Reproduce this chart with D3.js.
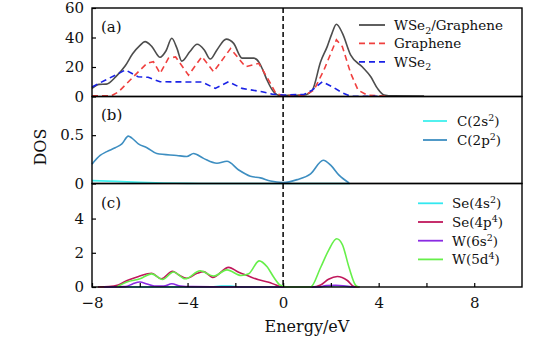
<!DOCTYPE html>
<html>
<head>
<meta charset="utf-8">
<script src="https://cdn.jsdelivr.net/npm/d3@7/dist/d3.min.js"></script>
<style>
  body { margin: 0; background: #fff; }
  svg { display: block; font-family: "DejaVu Serif", serif; }
</style>
</head>
<body>
<div id="okvir"></div>
<script>

// 1. Podaci (energija u eV, DOS)

const energyTicks = [-8, -6, -4, -2, 0, 2, 4, 6, 8]
const energyLabels = [-8, -4, 0, 4, 8]
const ticksA = [0, 20, 40, 60]
const ticksB = [0, 0.5]
const ticksC = [0, 2, 4]

const dosTotal = [[-8,5.5],[-7.7,8.2],[-7.4,8.4],[-7.0,13.5],[-6.6,21],[-6.3,29],[-6.0,34.5],[-5.78,37.2],[-5.5,34],[-5.15,26.6],[-4.9,31],[-4.66,39.5],[-4.45,33],[-4.24,24],[-3.9,30.5],[-3.6,35.4],[-3.3,31.6],[-3.05,25.4],[-2.77,31.6],[-2.38,38.9],[-2.07,36],[-1.72,26],[-1.23,26],[-1.0,23],[-0.85,18],[-0.67,11],[-0.39,3],[-0.14,0.6],[0.2,0.8],[0.87,1],[1.22,4.3],[1.57,23.6],[1.85,34],[2.05,43],[2.23,49],[2.48,43],[2.83,28],[3.32,20],[3.67,13.4],[3.95,5.5],[4.23,1],[4.6,0.4],[5.9,0.3]]
const dosGraphene = [[-8,0.4],[-7.2,0.4],[-6.9,3],[-6.2,14.5],[-5.7,22.5],[-5.43,23.6],[-5.15,15.7],[-4.8,26],[-4.5,26.8],[-3.96,14.5],[-3.4,27],[-2.91,16.8],[-2.2,32.5],[-1.58,20.2],[-1.02,22.5],[-0.6,11],[-0.3,2],[0,0.6],[0.9,0.8],[1.29,4.3],[1.71,18],[2.23,38.4],[2.48,33.8],[2.83,15.7],[3.14,4.3],[3.53,0.9],[4.4,0.3]]
const dosWSe2 = [[-8,6.5],[-7.45,11],[-6.6,18],[-6.07,13.4],[-5.65,13],[-5.15,10],[-3.4,9.8],[-2.84,5.5],[-2.28,10],[-1.72,5.5],[-0.88,3.2],[-0.46,1.6],[0,1],[0.87,1.4],[1.22,4.3],[1.64,10],[2.06,6.6],[2.48,2.5],[2.83,0.2],[3.95,0.2]]

const dosC2s = [[-8,0.03],[-7,0.022],[-6,0.012],[-5,0.005],[-4,0.001],[-3,0],[0,0],[2.8,0]]
const dosC2p = [[-8,0.2],[-7.66,0.29],[-7.38,0.33],[-7.03,0.37],[-6.75,0.41],[-6.48,0.49],[-6.33,0.47],[-6.06,0.41],[-5.7,0.37],[-5.29,0.31],[-4.45,0.29],[-4.03,0.28],[-3.75,0.31],[-3.33,0.26],[-2.77,0.21],[-2.35,0.23],[-1.86,0.14],[-1.37,0.075],[-0.95,0.058],[-0.53,0.025],[0,0.01],[0.59,0.04],[1.15,0.1],[1.68,0.24],[1.99,0.19],[2.34,0.086],[2.76,0.005]]

const dosSe4s = [[-7.5,0],[-3,0.01],[-2.6,0.05],[-2.2,0.05],[-1.8,0.01],[0,0],[1.5,0],[1.9,0.06],[2.3,0.07],[2.7,0.02],[3,0]]
const dosSe4p = [[-7.75,0],[-7.3,0.02],[-6.9,0.12],[-6.5,0.4],[-6.05,0.62],[-5.5,0.8],[-5.1,0.48],[-4.63,0.92],[-4.38,0.72],[-4.03,0.51],[-3.6,0.8],[-3.33,0.9],[-2.95,0.56],[-2.28,1.15],[-1.86,0.86],[-1.45,0.64],[-1.02,0.42],[-0.6,0.28],[-0.3,0.12],[0,0],[1.22,0],[1.57,0.12],[1.9,0.45],[2.27,0.61],[2.69,0.38],[2.97,0.02],[3.2,0]]
const dosW6s = [[-7.5,0],[-6.6,0.02],[-6.3,0.18],[-6.0,0.29],[-5.7,0.18],[-5.4,0.06],[-5.0,0.05],[-4.66,0.19],[-4.3,0.06],[-3.8,0.02],[-3,0.01],[0,0],[1.5,0],[1.8,0.08],[2.2,0.1],[2.6,0.06],[3,0]]
const dosW5d = [[-6.96,0],[-6.54,0.29],[-5.99,0.48],[-5.5,0.77],[-5.05,0.44],[-4.59,0.88],[-4.1,0.48],[-3.47,0.95],[-2.91,0.64],[-2.35,1.0],[-1.75,0.67],[-1.44,0.77],[-1.0,1.53],[-0.67,1.18],[-0.39,0.57],[-0.11,0.1],[0.2,0],[1.15,0],[1.57,1.14],[1.92,2.19],[2.24,2.82],[2.48,2.48],[2.76,1.14],[3.04,0.1],[3.2,0]]

const xAccessor = d => d[0]
const yAccessor = d => d[1]

// 2. Dimenzije

const dimenzije = {
  sirina: 554,
  visina: 340,
  margine: { top: 8, right: 32, bottom: 53, left: 92 },
}

const paneli = [
  { id: "a", top: 8, bottom: 96.5, max: 60, ticks: ticksA, oznaka: "(a)", oznakaY: 32,
    legenda: { x1: 359, x2: 385, tx: 394, y0: 25, korak: 18.4 },
    serije: [
      { data: dosTotal, boja: "#4d4d4d", crtica: null, krivulja: d3.curveMonotoneX, naziv: "WSe_2/Graphene" },
      { data: dosGraphene, boja: "#f0403f", crtica: "6,4", krivulja: d3.curveLinear, naziv: "Graphene" },
      { data: dosWSe2, boja: "#1a22e6", crtica: "6,4", krivulja: d3.curveLinear, naziv: "WSe_2" },
    ] },
  { id: "b", top: 96.5, bottom: 183.5, max: 0.9, ticks: ticksB, oznaka: "(b)", oznakaY: 120,
    legenda: { x1: 423, x2: 447, tx: 457, y0: 121, korak: 19 },
    serije: [
      { data: dosC2s, boja: "#3ff0ee", crtica: null, krivulja: d3.curveMonotoneX, naziv: "C(2s^2)" },
      { data: dosC2p, boja: "#3d8ec1", crtica: null, krivulja: d3.curveMonotoneX, naziv: "C(2p^2)" },
    ] },
  { id: "c", top: 183.5, bottom: 287, max: 6.05, ticks: ticksC, oznaka: "(c)", oznakaY: 208,
    legenda: { x1: 418, x2: 443, tx: 452, y0: 203.3, korak: 18.7 },
    serije: [
      { data: dosSe4s, boja: "#33e8f0", crtica: null, krivulja: d3.curveMonotoneX, naziv: "Se(4s^2)" },
      { data: dosSe4p, boja: "#c0185c", crtica: null, krivulja: d3.curveMonotoneX, naziv: "Se(4p^4)" },
      { data: dosW6s, boja: "#8a2be2", crtica: null, krivulja: d3.curveMonotoneX, naziv: "W(6s^2)" },
      { data: dosW5d, boja: "#66ef4a", crtica: null, krivulja: d3.curveMonotoneX, naziv: "W(5d^4)" },
    ] },
]

// 3. Canvas

const okvir = d3.select("#okvir")
  .append("svg")
    .attr("width", dimenzije.sirina)
    .attr("height", dimenzije.visina)

// 4. Razmjeri

const xSkala = d3.scaleLinear()
  .domain([-8, 10])
  .range([dimenzije.margine.left, dimenzije.sirina - dimenzije.margine.right])

// tekst s indeksima: _x je indeks dolje, ^x je eksponent
const pisiTekst = (sel, tekst, velicina) => {
  const dijelovi = tekst.split(/([_^].)/).filter(s => s.length)
  let povrat = 0
  dijelovi.forEach(s => {
    if (s[0] == "_" || s[0] == "^") {
      const pomak = s[0] == "_" ? 3.5 : -5
      sel.append("tspan")
        .attr("dy", pomak + povrat)
        .style("font-size", `${velicina * 0.7}px`)
        .text(s[1])
      povrat = -pomak
    } else {
      sel.append("tspan").attr("dy", povrat).text(s)
      povrat = 0
    }
  })
}

// 5. Crtanje podataka

paneli.forEach(p => {
  const ySkala = d3.scaleLinear()
    .domain([0, p.max])
    .range([p.bottom, p.top])

  const g = okvir.append("g")

  const lineGenerator = d3.line()
    .x(d => xSkala(xAccessor(d)))
    .y(d => ySkala(yAccessor(d)))

  p.serije.forEach(s => {
    g.append("path")
      .datum(s.data)
      .attr("d", lineGenerator.curve(s.krivulja))
      .attr("fill", "none")
      .attr("stroke", s.boja)
      .attr("stroke-width", 1.6)
      .attr("stroke-dasharray", s.crtica)
  })

  // y os s crticama prema unutra
  const yOsGenerator = d3.axisLeft(ySkala)
    .tickValues(p.ticks)
    .tickSize(-4)
    .tickPadding(8)
    .tickFormat(d3.format(""))

  const yOs = g.append("g")
    .attr("transform", `translate(${dimenzije.margine.left},0)`)
    .call(yOsGenerator)
  yOs.select(".domain").remove()
  yOs.selectAll("line").attr("stroke", "#000").attr("stroke-width", 1.2)
  yOs.selectAll("text")
    .style("font-family", "DejaVu Serif")
    .style("font-size", "15px")
    .attr("fill", "#111")

  g.append("rect")
    .attr("x", xSkala(-8))
    .attr("y", p.top)
    .attr("width", xSkala(10) - xSkala(-8))
    .attr("height", p.bottom - p.top)
    .attr("fill", "none")
    .attr("stroke", "#000")
    .attr("stroke-width", 1.4)

  g.append("text")
    .attr("x", 101)
    .attr("y", p.oznakaY)
    .style("font-size", "15px")
    .attr("fill", "#111")
    .text(p.oznaka)

  // legenda
  const leg = p.legenda
  p.serije.forEach((s, i) => {
    const y = leg.y0 + i * leg.korak
    g.append("line")
      .attr("x1", leg.x1).attr("x2", leg.x2)
      .attr("y1", y).attr("y2", y)
      .attr("stroke", s.boja)
      .attr("stroke-width", 1.8)
      .attr("stroke-dasharray", s.crtica)
    const t = g.append("text")
      .attr("x", leg.tx)
      .attr("y", y + 5)
      .style("font-size", "13.5px")
      .attr("fill", "#111")
    pisiTekst(t, s.naziv, 13.5)
  })
})

// 6. Pomocna grafika

const dno = paneli[2].bottom

const xOsGenerator = d3.axisBottom(xSkala)
  .tickValues(energyTicks)
  .tickSize(-4)
  .tickPadding(10)
  .tickFormat(d3.format(""))

const xOs = okvir.append("g")
  .attr("transform", `translate(0,${dno})`)
  .call(xOsGenerator)
xOs.select(".domain").remove()
xOs.selectAll("line").attr("stroke", "#000").attr("stroke-width", 1.2)
// samo svaka druga oznaka ima broj
xOs.selectAll(".tick")
  .filter(d => !energyLabels.includes(d))
  .select("text").remove()
xOs.selectAll("text")
  .style("font-family", "DejaVu Serif")
  .style("font-size", "15px")
  .attr("fill", "#111")

okvir.append("line")
  .attr("x1", xSkala(0)).attr("x2", xSkala(0))
  .attr("y1", paneli[0].top).attr("y2", dno)
  .attr("stroke", "#000")
  .attr("stroke-width", 1.5)
  .attr("stroke-dasharray", "5,3")

okvir.append("text")
  .attr("x", (xSkala(-8) + xSkala(10)) / 2)
  .attr("y", 332)
  .attr("text-anchor", "middle")
  .style("font-size", "16px")
  .attr("fill", "#111")
  .text("Energy/eV")

okvir.append("text")
  .attr("transform", "translate(46,147) rotate(-90)")
  .attr("text-anchor", "middle")
  .style("font-size", "16px")
  .attr("fill", "#111")
  .text("DOS")

</script>
</body>
</html>
